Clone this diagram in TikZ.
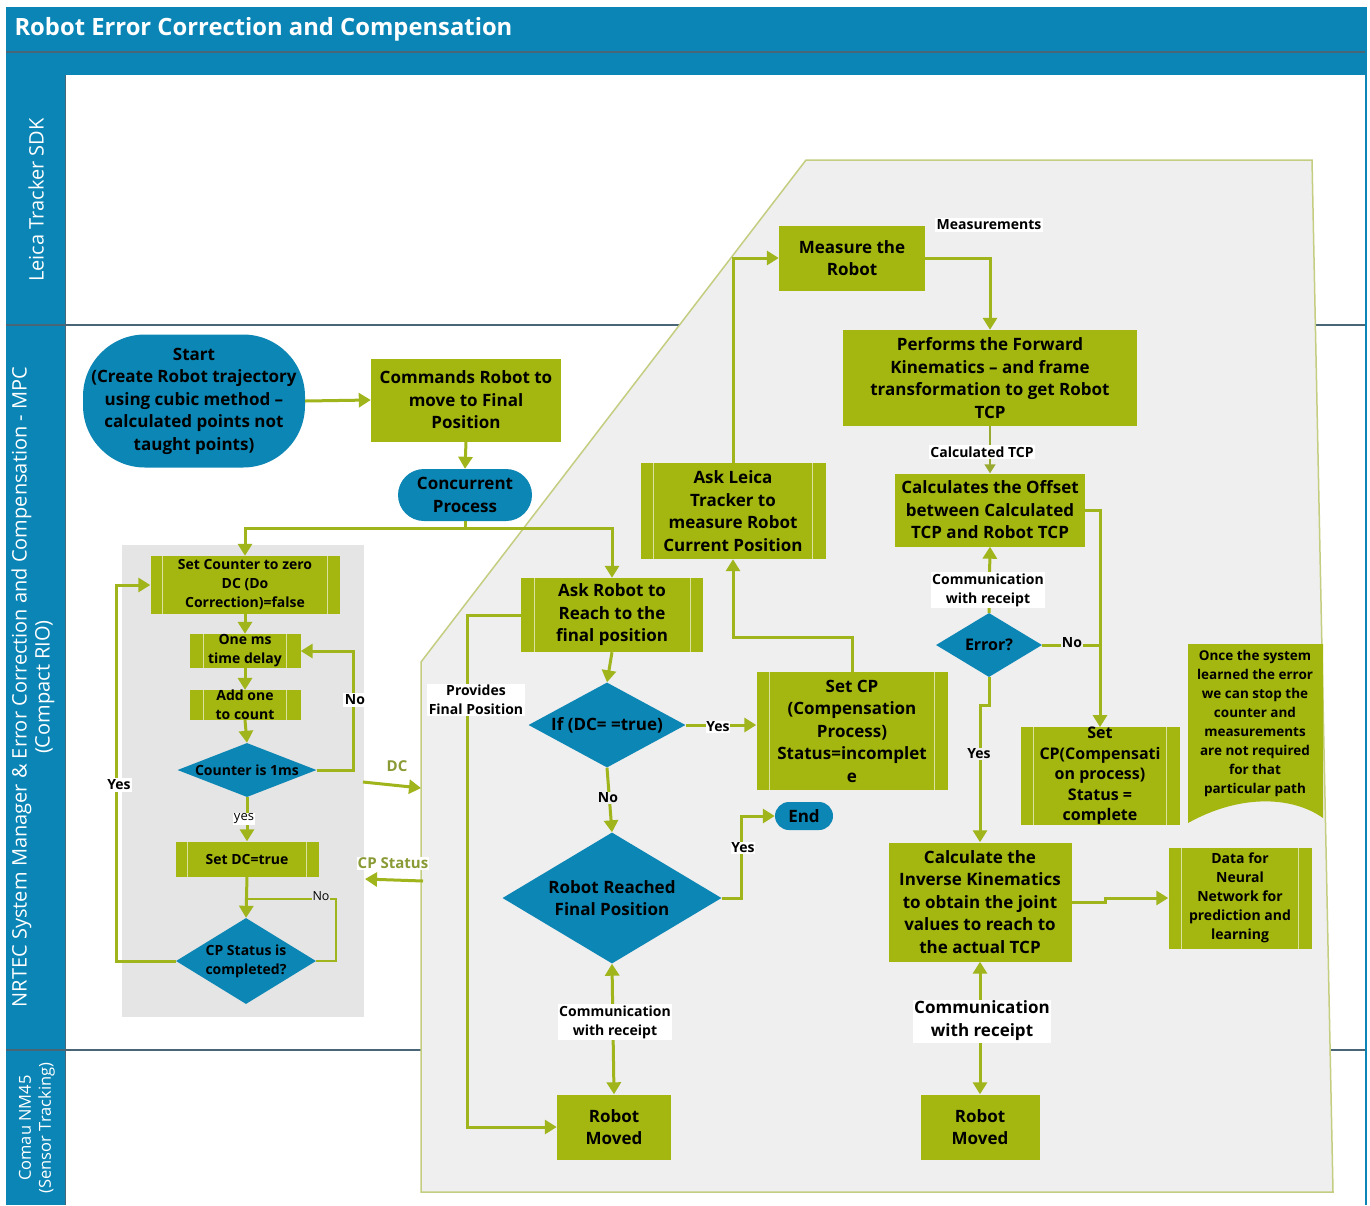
\documentclass[tikz,border=0pt]{standalone}
\usepackage{fontspec}
\setmainfont{Open Sans}
\usetikzlibrary{shapes.geometric,arrows.meta}
\definecolor{bandblue}{RGB}{10,133,181}
\definecolor{diablue}{RGB}{12,134,180}
\definecolor{boxgreen}{RGB}{164,183,16}
\definecolor{wiregreen}{RGB}{160,181,28}
\definecolor{panelgray}{RGB}{239,239,239}
\definecolor{innergray}{RGB}{229,229,229}
\definecolor{rimolive}{RGB}{196,205,128}
\definecolor{laneline}{RGB}{72,102,118}
\definecolor{labelolive}{RGB}{138,154,52}
\begin{document}
\begin{tikzpicture}[x=1pt,y=-1pt,
  f18/.style={font=\fontsize{17}{22.5}\selectfont\bfseries},
  f17/.style={font=\fontsize{16}{20.5}\selectfont\bfseries},
  f15/.style={font=\fontsize{14}{19}\selectfont\bfseries},
  f14/.style={font=\fontsize{13.5}{19}\selectfont\bfseries},
  box/.style={fill=boxgreen, inner sep=0pt, align=center, text=black},
  ppline/.style={draw=boxgreen!40!white, line width=1pt},
  ppbox/.style={box, path picture={
      \draw[ppline] ([xshift=#1]path picture bounding box.north west) -- ([xshift=#1]path picture bounding box.south west);
      \draw[ppline] ([xshift=-#1]path picture bounding box.north east) -- ([xshift=-#1]path picture bounding box.south east);}},
  ppbox/.default=13pt,
  stadium/.style={fill=diablue, rounded corners=#1, inner sep=0pt, align=center, text=black},
  dia/.style={diamond, fill=diablue, inner sep=0pt},
  wire/.style={draw=wiregreen, line width=3pt},
  flow/.style={wire, -{Triangle[length=12pt,width=14pt]}},
  both/.style={wire, {Triangle[length=12pt,width=14pt]}-{Triangle[length=12pt,width=14pt]}},
  tag/.style={fill=white, inner sep=1.5pt, align=center, text=black},
  oltag/.style={text=labelolive, inner sep=1pt, font=\fontsize{15}{18}\selectfont\bfseries}
]
\useasboundingbox (0,0) rectangle (1370,1205);
\fill[white] (0,0) rectangle (1370,1205);

% swimlane frame
\fill[bandblue] (6,7) rectangle (1366,75);
\draw[laneline, line width=1.2pt] (6,52) -- (1366,52);
\fill[bandblue] (6,75) rectangle (65,1205);
\draw[laneline, line width=1.5pt] (6,325) -- (1366,325);
\draw[laneline, line width=1.5pt] (6,1050) -- (1366,1050);
\draw[laneline, line width=0.8pt] (65,75) -- (65,1205);
\draw[bandblue, line width=2pt] (1366,7) -- (1366,1205);

\node[anchor=west, text=white, font=\fontsize{23.8}{28}\selectfont\bfseries] (title) at (11,29) {Robot Error Correction and Compensation};
\node[rotate=90, text=white, font=\fontsize{20}{22}\selectfont] (laneA) at (36,200) {Leica Tracker SDK};
\node[rotate=90, text=white, align=center, font=\fontsize{20}{23}\selectfont] (laneB) at (33,687) {NRTEC System Manager \& Error Correction and Compensation - MPC\\(Compact RIO)};
\node[rotate=90, text=white, align=center, font=\fontsize{16.5}{20}\selectfont] (laneC) at (37,1128) {Comau NM45\\(Sensor Tracking)};

% concurrent-process region and counter panel
\draw[fill=panelgray, draw=rimolive, line width=1.5pt] (421,662) -- (806,160) -- (1312,160) -- (1333,1192) -- (421,1192) -- cycle;
\fill[innergray] (122,545) rectangle (364,1017);

% main flow
\node[stadium=62pt, minimum width=222pt, minimum height=133pt, f18] (start) at (194,401)
  {Start\\(Create Robot trajectory\\using cubic method –\\calculated points not\\taught points)};
\node[box, minimum width=190pt, minimum height=83pt, f18] (cmd) at (466,400) {Commands Robot to\\move to Final\\Position};
\node[stadium=26pt, minimum width=134pt, minimum height=52pt, f18] (conc) at (465,495) {Concurrent\\Process};
\coordinate (split) at (465,528);

% counter loop
\node[ppbox=12pt, minimum width=189pt, minimum height=58pt, f15] (setc) at (245,585) {Set Counter to zero\\DC (Do\\Correction)=false};
\node[ppbox=14pt, minimum width=111pt, minimum height=34pt, f15] (onems) at (245,651) {One ms\\time delay};
\node[ppbox=14pt, minimum width=111pt, minimum height=29pt, f15] (addone) at (245,705) {Add one\\to count};
\node[dia, minimum width=139pt, minimum height=54pt] (cnt) at (247,770) {};
\node[f15] (cnttx) at (cnt) {Counter is 1ms};
\node[ppbox=12pt, minimum width=143pt, minimum height=35pt, f15] (setdc) at (247,859) {Set DC=true};
\node[dia, minimum width=140pt, minimum height=86pt] (cps) at (246,961) {};
\node[f15, align=center] (cpstx) at (cps) {CP Status is\\completed?};

% robot motion branch
\node[ppbox, minimum width=182pt, minimum height=74pt, f18] (askr) at (612,615) {Ask Robot to\\Reach to the\\final position};
\node[dia, minimum width=157pt, minimum height=85pt] (ifdc) at (607,725) {};
\node[f18] (ifdctx) at (ifdc) {If (DC= =true)};
\node[dia, minimum width=219pt, minimum height=131pt] (reach) at (612,898) {};
\node[f18, align=center] (reachtx) at (reach) {Robot Reached\\Final Position};
\node[stadium=14pt, minimum width=58pt, minimum height=28pt, f18] (endn) at (804,816) {End};
\node[box, minimum width=114pt, minimum height=65pt, f18] (rma) at (614,1127) {Robot\\Moved};

% measurement branch
\node[ppbox, minimum width=191pt, minimum height=118pt, f18] (setcp) at (852,731) {Set CP\\(Compensation\\Process)\\Status=incomplet\\e};
\node[ppbox, minimum width=185pt, minimum height=96pt, f18] (askl) at (733,511) {Ask Leica\\Tracker to\\measure Robot\\Current Position};
\node[box, minimum width=146pt, minimum height=65pt, f18] (meas) at (852,258) {Measure the\\Robot};
\node[box, minimum width=294pt, minimum height=96pt, f18] (fwd) at (990,378) {Performs the Forward\\Kinematics – and frame\\transformation to get Robot\\TCP};
\node[box, minimum width=190pt, minimum height=73pt, f18] (off) at (990,510) {Calculates the Offset\\between Calculated\\TCP and Robot TCP};
\node[dia, minimum width=106pt, minimum height=64pt] (err) at (989,645) {};
\node[f17] (errtx) at (err) {Error?};
\node[ppbox, minimum width=159pt, minimum height=97pt, f17] (setcpc) at (1100,776) {Set\\CP(Compensati\\on process)\\Status =\\complete};
\node[box, minimum width=183pt, minimum height=119pt, f18] (ik) at (980,902) {Calculate the\\Inverse Kinematics\\to obtain the joint\\values to reach to\\the actual TCP};
\node[ppbox, minimum width=143pt, minimum height=101pt, f15] (data) at (1240,898) {Data for\\Neural\\Network for\\prediction and\\learning};
\node[box, minimum width=119pt, minimum height=65pt, f18] (rmb) at (980,1127) {Robot\\Moved};

% annotation note (document shape)
\fill[boxgreen] (1188,644) -- (1323,644) -- (1323,818)
  .. controls (1292,796) and (1240,794) .. (1188,823) -- cycle;
\node[f14, align=center] (note) at (1255,723) {Once the system\\learned the error\\we can stop the\\counter and\\measurements\\are not required\\for that\\particular path};

% connectors: start and split
\draw[flow] (start.east) -- (cmd.west);
\draw[flow] (cmd.south) -- (conc.north);
\draw[wire] (conc.south) -- (split);
\draw[flow] (split) -| (setc.north);
\draw[flow] (split) -| (askr.north);

% connectors: counter loop
\draw[flow] (setc.south) -- (onems.north);
\draw[flow] (onems.south) -- (addone.north);
\draw[flow] (addone.south) -- (cnt.north);
\coordinate (nloop) at (353,770);
\draw[flow] (cnt.east) -- (nloop) |- (onems.east);
\node[tag, f15] (nolbl) at (355,700) {No};
\draw[flow] (cnt.south) -- (setdc.north);
\node[tag, inner sep=0.5pt, font=\fontsize{13}{16}\selectfont] (yeslbl) at (244,819) {yes};
\draw[flow] (setdc.south) -- (cps.north);
\coordinate (cploopA) at (336,899);
\coordinate (cploopB) at (247,899);
\draw[wire, line width=2.5pt] (cps.east) -| (cploopA) -- (cploopB);
\node[fill=innergray, inner sep=0.5pt, font=\fontsize{12.5}{15}\selectfont] (nolblb) at (321,896) {No};
\coordinate (yloop) at (116,961);
\draw[flow] (cps.west) -- (yloop) |- (setc.west);
\node[tag, f15] (yeslblb) at (119,785) {Yes};

% signals between the two processes
\coordinate (dcA) at (363,782);
\coordinate (dcB) at (421,788);
\draw[flow] (dcA) -- (dcB);
\node[oltag] (dclbl) at (397,766) {DC};
\coordinate (cpA) at (423,881);
\coordinate (cpB) at (365,879);
\draw[flow] (cpA) -- (cpB);
\node[oltag, fill=white] (cplbl) at (393,863) {CP Status};

% connectors: robot motion branch
\coordinate (prov) at (467,615);
\draw[flow] (askr.west) -- (prov) |- (rma.west);
\node[tag, f15] (provlbl) at (476,700) {Provides\\Final Position};
\draw[flow] (askr.south) -- (ifdc.north);
\draw[flow] (ifdc.east) -- (setcp.west |- ifdc.east);
\node[tag, inner sep=0.5pt, f15] (yeslblc) at (718,727) {Yes};
\draw[flow] (ifdc.south) -- (reach.north);
\node[fill=panelgray, inner sep=1pt, f15] (nolblc) at (608,798) {No};
\coordinate (yend) at (741,898);
\draw[flow] (reach.east) -- (yend) |- (endn.west);
\node[tag, inner sep=0.5pt, f15] (yeslbld) at (743,848) {Yes};
\draw[both] (rma.north) -- (reach.south);
\node[tag, f15] (comma) at (615,1022) {Communication\\with receipt};

% connectors: measurement branch
\coordinate (cpup) at (733,637);
\draw[flow] (setcp.north) |- (cpup) -- (askl.south);
\draw[flow] (askl.north) |- (meas.west);
\draw[flow] (meas.east) -| (fwd.north);
\node[tag, f15] (measlbl) at (989,225) {Measurements};
\draw[draw=wiregreen!80!gray, line width=1.5pt, -{Triangle[length=9pt,width=11pt]}] (fwd.south) -- (off.north);
\node[tag, f15] (tcplbl) at (982,452) {Calculated TCP};
\draw[flow] (err.north) -- (off.south);
\node[tag, f15] (commb) at (988,590) {Communication\\with receipt};
\draw[flow] (off.east) -| (setcpc.north);
\coordinate (nojoin) at (1100,645);
\draw[wire] (err.east) -- (nojoin);
\node[fill=panelgray, inner sep=0.5pt, f15] (nolbld) at (1072,643) {No};
\coordinate (yjog) at (989,705);
\draw[flow] (err.south) -- (yjog) -| (ik.north);
\node[fill=panelgray, inner sep=1pt, f15] (yeslble) at (979,754) {Yes};
\coordinate (ikjog) at (1105,902);
\draw[flow] (ik.east) -- (ikjog) |- (data.west);
\draw[both] (rmb.north) -- (ik.south);
\node[tag, font=\fontsize{17}{23}\selectfont\bfseries] (commc) at (982,1021) {Communication\\with receipt};
\end{tikzpicture}
\end{document}
